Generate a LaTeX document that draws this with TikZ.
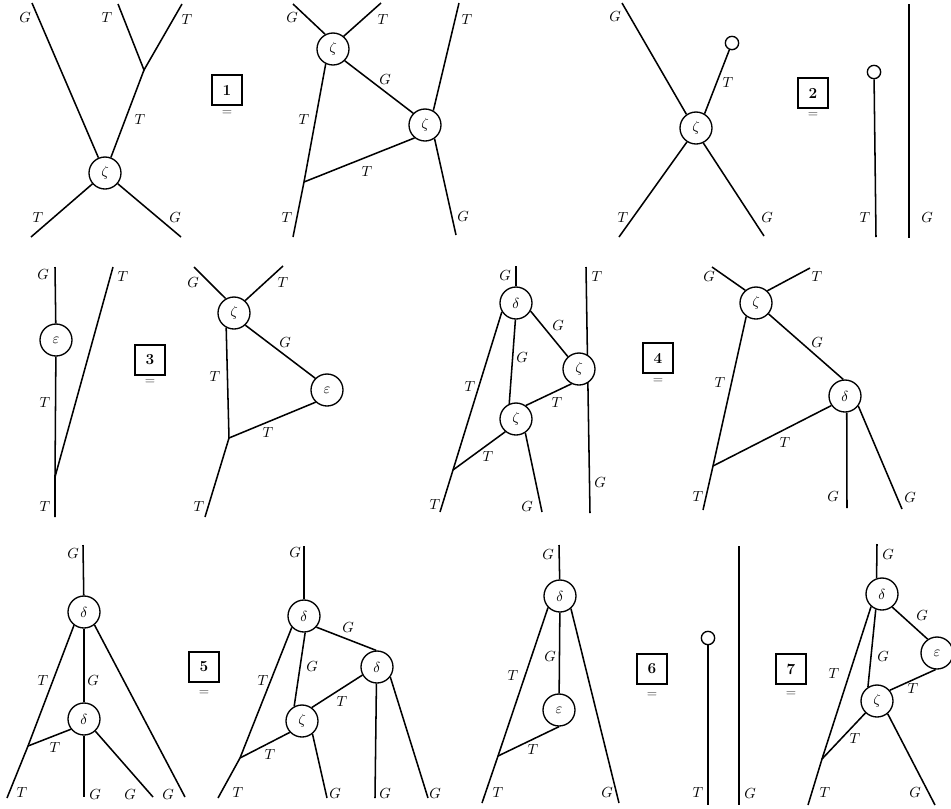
\documentclass[tikz,border=0pt]{standalone}
\pgfdeclarelayer{background}
\pgfsetlayers{background,main}
\tikzset{
  vtx/.style={circle, draw, fill=white, minimum size=24pt, inner sep=0pt, line width=1pt, font=\fontsize{10.5}{12}\selectfont},
  capc/.style={circle, draw, fill=white, minimum size=10pt, inner sep=0pt, line width=1pt},
  lbl/.style={font=\fontsize{11}{13}\selectfont, inner sep=0pt},
  eqbox/.style={draw, line width=1pt, minimum size=22.5pt, inner sep=0pt, font=\fontsize{11.5}{13}\selectfont\bfseries},
  eqsign/.style={inner sep=0pt, text=black!80},
  wire/.style={line width=1.15pt},
}
\begin{document}
\begin{tikzpicture}[x=0.75pt,y=-0.75pt]
\useasboundingbox (0,0) rectangle (951,808);

% ===== Panel 1 left =====
\node[vtx] (a1z) at (105,173) {$\zeta$};
\coordinate (a1g) at (32,3);
\coordinate (a1j) at (144,70);
\coordinate (a1t1) at (118,4);
\coordinate (a1t2) at (182,4);
\coordinate (a1bt) at (31,237);
\coordinate (a1bg) at (181,237);
\draw[wire] (a1g) -- (a1z);
\draw[wire] (a1t1) -- (a1j) -- (a1t2);
\draw[wire] (a1j) -- (a1z);
\draw[wire] (a1z) -- (a1bt);
\draw[wire] (a1z) -- (a1bg);
\node[lbl] (a1l1) at (25,18) {$G$};
\node[lbl] (a1l2) at (107,18) {$T$};
\node[lbl] (a1l3) at (187,20) {$T$};
\node[lbl] (a1l4) at (140,120) {$T$};
\node[lbl] (a1l5) at (38,218) {$T$};
\node[lbl] (a1l6) at (175,218) {$G$};

\node[eqbox] (box1) at (227,90) {1};
\node[eqsign] (eq1) at (227,113) {$=$};

% ===== Panel 1 right =====
\node[vtx] (b1z1) at (333,49) {$\zeta$};
\node[vtx] (b1z2) at (425,125) {$\zeta$};
\coordinate (b1g) at (293,4);
\coordinate (b1t) at (381,3);
\coordinate (b1tr) at (459,3);
\coordinate (b1bg) at (456,235);
\coordinate (b1j) at (304,182);
\coordinate (b1bt) at (293,237);
\draw[wire] (b1g) -- (b1z1.118);
\draw[wire] (b1t) -- (b1z1.50);
\draw[wire] (b1z1.-45) -- (b1z2.135);
\draw[wire] (b1z1.244) -- (b1j) -- (b1bt);
\draw[wire] (b1j) -- (b1z2.231);
\draw[wire] (b1tr) -- (b1z2.60);
\draw[wire] (b1z2.305) -- (b1bg);
\node[lbl] (b1l1) at (292,18) {$G$};
\node[lbl] (b1l2) at (383,20) {$T$};
\node[lbl] (b1l3) at (467,20) {$T$};
\node[lbl] (b1l4) at (385,80) {$G$};
\node[lbl] (b1l5) at (304,120) {$T$};
\node[lbl] (b1l6) at (367,172) {$T$};
\node[lbl] (b1l7) at (287,218) {$T$};
\node[lbl] (b1l8) at (463,217) {$G$};

% ===== Panel 2 =====
\node[vtx] (c2z) at (696,128) {$\zeta$};
\node[capc] (c2cap) at (732,43) {};
\coordinate (c2g) at (622,3);
\coordinate (c2bt) at (619,237);
\coordinate (c2bg) at (764,236);
\draw[wire] (c2g) -- (c2z.125);
\draw[wire] (c2z.59) -- (c2cap);
\draw[wire] (c2z.237) -- (c2bt);
\draw[wire] (c2z.296) -- (c2bg);
\node[lbl] (c2l1) at (615,17) {$G$};
\node[lbl] (c2l2) at (728,83) {$T$};
\node[lbl] (c2l3) at (623,218) {$T$};
\node[lbl] (c2l4) at (767,218) {$G$};

\node[eqbox] (box2) at (813,93) {2};
\node[eqsign] (eq2) at (813,115) {$=$};

\node[capc] (c2cap2) at (874,72) {};
\coordinate (c2t) at (876,237);
\draw[wire] (c2cap2) -- (c2t);
\node[lbl] (c2l5) at (865,218) {$T$};
\coordinate (c2gt) at (909.25,4);
\coordinate (c2gb) at (909.25,238);
\draw[wire] (c2gt) -- (c2gb);
\node[lbl] (c2l6) at (927,218) {$G$};

% ===== Panel 3 left =====
\node[vtx] (d3e) at (56,340) {$\varepsilon$};
\coordinate (d3g) at (55,267);
\coordinate (d3j) at (55,477);
\coordinate (d3b) at (55,517);
\coordinate (d3t) at (113,267);
\draw[wire] (d3g) -- (d3e);
\draw[wire] (d3e) -- (d3j) -- (d3b);
\draw[wire] (d3j) -- (d3t);
\node[lbl] (d3l1) at (43,275) {$G$};
\node[lbl] (d3l2) at (45,403) {$T$};
\node[lbl] (d3l3) at (45,507) {$T$};
\node[lbl] (d3l4) at (123,277) {$T$};

\node[eqbox] (box3) at (150,360) {3};
\node[eqsign] (eq3) at (150,382) {$=$};

% ===== Panel 3 right =====
\node[vtx] (e3z) at (234,313) {$\zeta$};
\node[vtx] (e3e) at (327,390) {$\varepsilon$};
\coordinate (e3g) at (194,267);
\coordinate (e3t) at (283,266);
\coordinate (e3j) at (229,438);
\coordinate (e3b) at (205,517);
\draw[wire] (e3g) -- (e3z.120);
\draw[wire] (e3t) -- (e3z.48);
\draw[wire] (e3z.-47) -- (e3e.135);
\draw[wire] (e3z.242) -- (e3j) -- (e3b);
\draw[wire] (e3j) -- (e3e.227);
\node[lbl] (e3l1) at (193,283) {$G$};
\node[lbl] (e3l2) at (283,283) {$T$};
\node[lbl] (e3l3) at (285,343) {$G$};
\node[lbl] (e3l4) at (215,377) {$T$};
\node[lbl] (e3l5) at (268,433) {$T$};
\node[lbl] (e3l6) at (199,507) {$T$};

% ===== Panel 4 left =====
\node[vtx] (f4d) at (516,303) {$\delta$};
\node[vtx] (f4za) at (579,369) {$\zeta$};
\node[vtx] (f4zb) at (516,419) {$\zeta$};
\coordinate (f4g) at (516,266);
\coordinate (f4j) at (453,470);
\coordinate (f4bt) at (440,512);
\coordinate (f4vt) at (586,267);
\coordinate (f4vb) at (590,513);
\coordinate (f4bg) at (542,512);
\begin{pgfonlayer}{background}
\draw[wire] (f4vt) -- (f4vb);
\end{pgfonlayer}
\draw[wire] (f4g) -- (f4d);
\draw[wire] (f4d.212) -- (f4j) -- (f4bt);
\draw[wire] (f4d.268) -- (f4zb.114);
\draw[wire] (f4d.331) -- (f4za.132);
\draw[wire] (f4za.243) -- (f4zb.54);
\draw[wire] (f4zb.230) -- (f4j);
\draw[wire] (f4zb.304) -- (f4bg);
\node[lbl] (f4l1) at (505,276) {$G$};
\node[lbl] (f4l2) at (558,326) {$G$};
\node[lbl] (f4l3) at (522,358) {$G$};
\node[lbl] (f4l4) at (470,387) {$T$};
\node[lbl] (f4l5) at (557,403) {$T$};
\node[lbl] (f4l6) at (488,457) {$T$};
\node[lbl] (f4l7) at (435,505) {$T$};
\node[lbl] (f4l8) at (527,507) {$G$};
\node[lbl] (f4l9) at (597,277) {$T$};
\node[lbl] (f4l10) at (600,483) {$G$};

\node[eqbox] (box4) at (658,358) {4};
\node[eqsign] (eq4) at (658,381) {$=$};

% ===== Panel 4 right =====
\node[vtx] (g4z) at (756,303) {$\zeta$};
\node[vtx] (g4d) at (845,396) {$\delta$};
\coordinate (g4g) at (712,267);
\coordinate (g4t) at (810,268);
\coordinate (g4j) at (713,466);
\coordinate (g4bt) at (703,510);
\coordinate (g4bg) at (847,508);
\coordinate (g4br) at (902,509);
\draw[wire] (g4g) -- (g4z.130);
\draw[wire] (g4t) -- (g4z.47);
\draw[wire] (g4z.-41) -- (g4d.96);
\draw[wire] (g4z.234) -- (g4j) -- (g4bt);
\draw[wire] (g4j) -- (g4d.215);
\draw[wire] (g4d.276) -- (g4bg);
\draw[wire] (g4d.323) -- (g4br);
\node[lbl] (g4l1) at (709,277) {$G$};
\node[lbl] (g4l2) at (817,277) {$T$};
\node[lbl] (g4l3) at (817,343) {$G$};
\node[lbl] (g4l4) at (720,383) {$T$};
\node[lbl] (g4l5) at (785,443) {$T$};
\node[lbl] (g4l6) at (698,497) {$T$};
\node[lbl] (g4l7) at (833,497) {$G$};
\node[lbl] (g4l8) at (910,498) {$G$};

% ===== Panel 5 left =====
\node[vtx] (h5d1) at (84,612) {$\delta$};
\node[vtx] (h5d2) at (84,719) {$\delta$};
\coordinate (h5g) at (83,545);
\coordinate (h5j) at (28,746);
\coordinate (h5bt) at (7,798);
\coordinate (h5rg) at (185,797);
\coordinate (h5bg) at (84,797);
\coordinate (h5dg) at (153,797);
\draw[wire] (h5g) -- (h5d1);
\draw[wire] (h5d1.233) -- (h5j) -- (h5bt);
\draw[wire] (h5d1) -- (h5d2);
\draw[wire] (h5d1.309) -- (h5rg);
\draw[wire] (h5j) -- (h5d2.218);
\draw[wire] (h5d2) -- (h5bg);
\draw[wire] (h5d2.313) -- (h5dg);
\node[lbl] (h5l1) at (73,554) {$G$};
\node[lbl] (h5l2) at (43,681) {$T$};
\node[lbl] (h5l3) at (93,681) {$G$};
\node[lbl] (h5l4) at (55,748) {$T$};
\node[lbl] (h5l5) at (22,793) {$T$};
\node[lbl] (h5l6) at (95,795) {$G$};
\node[lbl] (h5l7) at (130,795) {$G$};
\node[lbl] (h5l8) at (168,795) {$G$};

\node[eqbox] (box5) at (204,667) {5};
\node[eqsign] (eq5) at (204,693) {$=$};

% ===== Panel 5 right =====
\node[vtx] (i5da) at (304,616) {$\delta$};
\node[vtx] (i5db) at (377,667) {$\delta$};
\node[vtx] (i5z) at (302,721) {$\zeta$};
\coordinate (i5g) at (304,546);
\coordinate (i5j) at (240,758);
\coordinate (i5bt) at (218,798);
\coordinate (i5zg) at (327,798);
\coordinate (i5vg) at (375,798);
\coordinate (i5rg) at (428,798);
\draw[wire] (i5g) -- (i5da);
\draw[wire] (i5da.318) -- (i5db.93);
\draw[wire] (i5da.274) -- (i5z.118);
\draw[wire] (i5da.223) -- (i5j) -- (i5bt);
\draw[wire] (i5db.209) -- (i5z.54);
\draw[wire] (i5z.223) -- (i5j);
\draw[wire] (i5z.309) -- (i5zg);
\draw[wire] (i5db.268) -- (i5vg);
\draw[wire] (i5db.323) -- (i5rg);
\node[lbl] (i5l1) at (295,553) {$G$};
\node[lbl] (i5l2) at (348,628) {$G$};
\node[lbl] (i5l3) at (312,667) {$G$};
\node[lbl] (i5l4) at (263,681) {$T$};
\node[lbl] (i5l5) at (342,702) {$T$};
\node[lbl] (i5l6) at (270,755) {$T$};
\node[lbl] (i5l7) at (238,793) {$T$};
\node[lbl] (i5l8) at (335,794) {$G$};
\node[lbl] (i5l9) at (385,794) {$G$};
\node[lbl] (i5l10) at (435,794) {$G$};

% ===== Panel 6 left =====
\node[vtx] (j6d) at (560,596) {$\delta$};
\node[vtx] (j6e) at (559,710) {$\varepsilon$};
\coordinate (j6g) at (559,545);
\coordinate (j6j) at (498,756);
\coordinate (j6bt) at (482,803);
\coordinate (j6rg) at (619,803);
\draw[wire] (j6g) -- (j6d);
\draw[wire] (j6d.224) -- (j6j) -- (j6bt);
\draw[wire] (j6d) -- (j6e);
\draw[wire] (j6d.311) -- (j6rg);
\draw[wire] (j6j) -- (j6e.270);
\node[lbl] (j6l1) at (548,555) {$G$};
\node[lbl] (j6l2) at (550,657) {$G$};
\node[lbl] (j6l3) at (513,676) {$T$};
\node[lbl] (j6l4) at (533,750) {$T$};
\node[lbl] (j6l5) at (498,793) {$T$};
\node[lbl] (j6l6) at (607,793) {$G$};

\node[eqbox] (box6) at (652,669) {6};
\node[eqsign] (eq6) at (652,695) {$=$};

\node[capc] (j6cap) at (708,638) {};
\coordinate (j6ct) at (708,805);
\draw[wire] (j6cap) -- (j6ct);
\node[lbl] (j6l7) at (698,793) {$T$};
\coordinate (j6vt) at (739.25,546);
\coordinate (j6vb) at (739.25,805);
\draw[wire] (j6vt) -- (j6vb);
\node[lbl] (j6l8) at (750,794) {$G$};

\node[eqbox] (box7) at (791,669) {7};
\node[eqsign] (eq7) at (791,694) {$=$};

% ===== Panel 7 right =====
\node[vtx] (k7d) at (882,594) {$\delta$};
\node[vtx] (k7e) at (937,653) {$\varepsilon$};
\node[vtx] (k7z) at (877,701) {$\zeta$};
\coordinate (k7g) at (877,544);
\coordinate (k7j) at (822,759);
\coordinate (k7bt) at (808,805);
\coordinate (k7bg) at (935,805);
\draw[wire] (k7g) -- (k7d.109);
\draw[wire] (k7d.308) -- (k7e.124);
\draw[wire] (k7d.248) -- (k7z.123);
\draw[wire] (k7d.229) -- (k7j) -- (k7bt);
\draw[wire] (k7e.265) -- (k7z.40);
\draw[wire] (k7z.226) -- (k7j);
\draw[wire] (k7z.310) -- (k7bg);
\node[lbl] (k7l1) at (888,555) {$G$};
\node[lbl] (k7l2) at (922,616) {$G$};
\node[lbl] (k7l3) at (883,657) {$G$};
\node[lbl] (k7l4) at (834,674) {$T$};
\node[lbl] (k7l5) at (913,689) {$T$};
\node[lbl] (k7l6) at (855,739) {$T$};
\node[lbl] (k7l7) at (825,793) {$T$};
\node[lbl] (k7l8) at (915,793) {$G$};
\end{tikzpicture}
\end{document}
